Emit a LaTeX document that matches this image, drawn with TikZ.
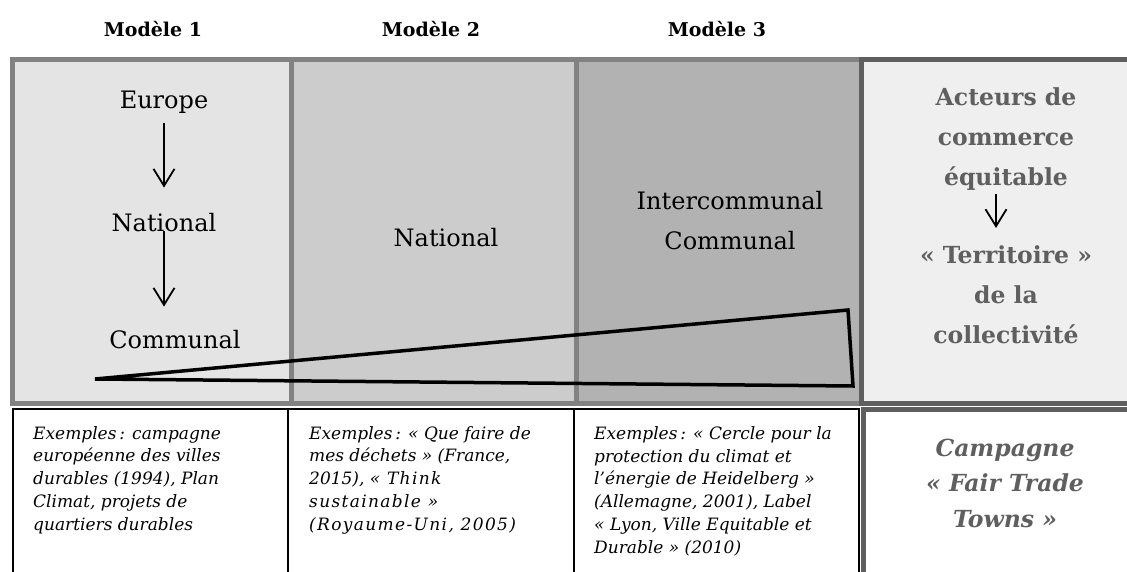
\documentclass[tikz,border=0pt]{standalone}
\usepackage{fontspec}
\setmainfont{DejaVu Serif}
\usetikzlibrary{arrows.meta, positioning}
\definecolor{framegray}{HTML}{828282}
\definecolor{actorgray}{HTML}{5F5F5F}
\definecolor{fillone}{HTML}{E4E4E4}
\definecolor{filltwo}{HTML}{CCCCCC}
\definecolor{fillthree}{HTML}{B2B2B2}
\definecolor{fillfour}{HTML}{EFEFEF}
\tikzset{
  header_font/.style = {font=\fontsize{19}{22}\selectfont\bfseries},
  level_font/.style = {font=\fontsize{24}{40}\selectfont},
  actor_font/.style = {font=\fontsize{23.5}{40}\selectfont\bfseries},
  example_font/.style = {font=\fontsize{17}{22.75}\selectfont\itshape},
  campaign_font/.style = {font=\fontsize{23.5}{35.5}\selectfont\bfseries\itshape}
}
\tikzset{
  column/.style = {draw=framegray, line width=5, inner sep=0, outer sep=0, anchor=north west, minimum height=343},
  example_box/.style = {draw, line width=1.8, inner sep=0, outer sep=0, anchor=north west, minimum height=200},
  header/.style = {header_font, inner sep=0, anchor=base},
  level/.style = {level_font, inner sep=0, anchor=base, align=center},
  actor/.style = {actor_font, text=actorgray, inner sep=0, anchor=base, align=center},
  example/.style = {example_font, inner sep=0, anchor=base west, align=left},
  campaign/.style = {campaign_font, text=actorgray, inner sep=0, anchor=base, align=center},
  flow/.style = {-{Straight Barb[length=17, width=21]}, line width=1.8},
  wedge/.style = {line width=3.5}
}
\newcommand{\spreadout}[1]{{\addfontfeature{LetterSpace=8}#1}}

\begin{document}
\begin{tikzpicture}[x=1pt, y=-1pt]
        \useasboundingbox (0,0) rectangle (1127,572);

        % Columns
        \node[column, fill=fillone, minimum width=279] at (12,60) (col_1) {};
        \node[column, fill=filltwo, minimum width=286] at (291,60) (col_2) {};
        \node[column, fill=fillthree, minimum width=285] at (576,60) (col_3) {};
        \node[column, fill=fillfour, draw=actorgray, minimum width=280] at (861,60) (col_4) {};

        % Headers
        \node[header] at (153,37) (m_1) {Modèle 1};
        \node[header] at (431,37) (m_2) {Modèle 2};
        \node[header] at (717,37) (m_3) {Modèle 3};

        % Levels (base = last line)
        \node[level] at (164,109) (lv_1) {Europe};
        \node[level] at (164,232) (lv_2) {National};
        \node[level] at (175,348) (lv_3) {Communal};
        \node[level] at (446,247) (nat) {National};
        \node[level] at (730,250) (inter) {Intercommunal\\Communal};

        % Actors
        \node[actor] at (1006,186) (act) {Acteurs de\\commerce\\équitable};
        \node[actor] at (1006,343) (ter) {« Territoire »\\de la\\collectivité};

        % Examples
        \node[example_box, minimum width=275] at (13,409) (ex_1) {};
        \node[example_box, minimum width=286] at (288,409) (ex_2) {};
        \node[example_box, minimum width=285, line width=2.4] at (574,409) (ex_3) {};
        \node[example_box, draw=actorgray, line width=5, minimum width=280] at (863,409) (ex_4) {};

        \node[example] at (33,530) (tx_1) {
            Exemples\,: campagne\\
            européenne des villes\\
            durables (1994), Plan\\
            Climat, projets de\\
            quartiers durables
            };
        \node[example] at (309,530) (tx_2) {
            Exemples\,: «~Que faire de\\
            mes déchets~» (France,\\
            2015), \spreadout{«~Think}\\
            \spreadout{sustainable~»}\\
            \spreadout{(Royaume-Uni, 2005)}
            };
        \node[example] at (594,553) (tx_3) {
            Exemples\,: «~Cercle pour la\\
            protection du climat et\\
            l’énergie de Heidelberg~»\\
            (Allemagne, 2001), Label\\
            «~Lyon, Ville Equitable et\\
            Durable~» (2010)
            };
        \node[campaign] at (1005,527) (tx_4) {
            Campagne\\
            «~Fair Trade\\
            Towns~»
            };

        % Arrows and lines
        \draw[flow, shorten <=8.5, shorten >=26] (lv_1.south) -- (lv_2.north);
        \draw[flow, shorten <=-2, shorten >=23] (lv_2.south) -- (lv_2.south |- lv_3.north);
        \draw[flow, shorten <=3, shorten >=17] ([xshift=-10]act.south) -- ([xshift=-10]ter.north);

        \draw[wedge] (95,379) -- (848,310) -- (853,386) -- cycle;
\end{tikzpicture}
\end{document}
